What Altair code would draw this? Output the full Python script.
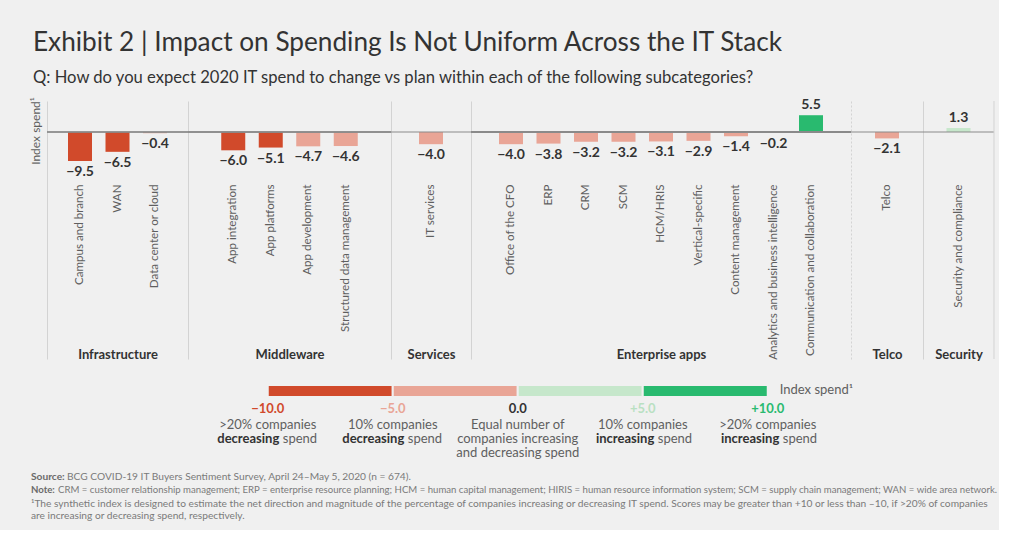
import altair as alt
import pandas as pd

# ---------------- data ----------------
subcategories = [
    "Campus and branch", "WAN", "Data center or cloud",
    "App integration", "App platforms", "App development", "Structured data management",
    "IT services",
    "Office of the CFO", "ERP", "CRM", "SCM", "HCM/HRIS", "Vertical-specific",
    "Content management", "Analytics and business intelligence", "Communication and collaboration",
    "Telco",
    "Security and compliance",
]
stack_layer = [
    "Infrastructure", "Infrastructure", "Infrastructure",
    "Middleware", "Middleware", "Middleware", "Middleware",
    "Services",
    "Enterprise apps", "Enterprise apps", "Enterprise apps", "Enterprise apps", "Enterprise apps",
    "Enterprise apps", "Enterprise apps", "Enterprise apps", "Enterprise apps",
    "Telco",
    "Security",
]
index_spend = [-9.5, -6.5, -0.4,
               -6.0, -5.1, -4.7, -4.6,
               -4.0,
               -4.0, -3.8, -3.2, -3.2, -3.1, -2.9, -1.4, -0.2, 5.5,
               -2.1,
               1.3]
groups = ["Infrastructure", "Middleware", "Services", "Enterprise apps", "Telco", "Security"]
y_title = "Index spend\u00b9"

legend_ticks = [-10, -5, 0, 5, 10]
legend_tick_labels = ["\u221210.0", "\u22125.0", "0.0", "+5.0", "+10.0"]
legend_line1 = [">20% companies", "10% companies", "Equal number of", "10% companies", ">20% companies"]
legend_bold = ["decreasing", "decreasing", "", "increasing", "increasing"]
legend_rest = ["spend", "spend", "companies increasing", "spend", "spend"]
legend_line3 = ["", "", "and decreasing spend", "", ""]
legend_seg_start = [-10, -5, 0, 5]
legend_seg_end = [-5, 0, 5, 10]

source_label = "Source:"
source_text = "BCG COVID-19 IT Buyers Sentiment Survey, April 24\u2013May 5, 2020 (n = 674)."
note_label = "Note:"
note_text = ("CRM = customer relationship management; ERP = enterprise resource planning; "
             "HCM = human capital management; HIRIS = human resource information system; "
             "SCM = supply chain management; WAN = wide area network.")
footnote_1 = ("\u00b9The synthetic index is designed to estimate the net direction and magnitude of the "
              "percentage of companies increasing or decreasing IT spend. Scores may be greater than +10 "
              "or less than \u201310, if >20% of companies")
footnote_2 = "are increasing or decreasing spend, respectively."

# ---------------- styling / layout ----------------
BG = "#f0f0f0"
FONT = "Lato"
DARK = "#333333"
GREY = "#5f5f5f"
DIV = "#d3d3d3"
color_scale = alt.Scale(type="threshold", domain=[-5, 0, 5],
                        range=["#d14a2b", "#e9a596", "#c6e7cb", "#29ba6f"])
panel_widths = [141, 203, 80, 380, 72, 71]
STEP = 37.5
PI = 0.36
H = 258
YDOM = [-74.4, 10.16]
LEFT = -16

df = pd.DataFrame({"subcategory": subcategories, "group": stack_layer, "index_spend": index_spend})
df["label"] = [("\u2212" if v < 0 else "") + f"{abs(v):.1f}" for v in df["index_spend"]]

panels = []
for i, g in enumerate(groups):
    d = df[df["group"] == g]
    n = len(d)
    W = panel_widths[i]
    po = (W / STEP - n + PI) / 2
    x_axis = alt.Axis(title=g, orient="bottom", offset=-180, domain=False, ticks=False,
                      labelAngle=-90, labelPadding=5, labelFontSize=11.6, labelColor=GREY,
                      labelFont=FONT, labelLimit=400,
                      titleFont=FONT, titleFontSize=13, titleFontWeight="bold", titleColor=DARK,
                      titleY=175, titleBaseline="middle")
    y_kw = dict(title="", labels=False, ticks=False, grid=False, domainColor=DIV, domainWidth=1)
    if g == "Telco":
        y_kw["domainDash"] = [2, 2]
    base = alt.Chart(d).encode(
        x=alt.X("subcategory:N", sort=list(d["subcategory"]),
                scale=alt.Scale(paddingInner=PI, paddingOuter=po), axis=x_axis),
        y=alt.Y("index_spend:Q", scale=alt.Scale(domain=YDOM, nice=False, zero=False),
                axis=alt.Axis(**y_kw)),
    )
    bars = base.mark_bar().encode(color=alt.Color("index_spend:Q", scale=color_scale, legend=None))
    zero = alt.Chart(d).mark_rule(color="#8a8a8a", strokeWidth=1.2).encode(y=alt.datum(0))
    neg = base.transform_filter("datum.index_spend < 0").mark_text(
        dy=11, baseline="middle", font=FONT, fontSize=14, fontWeight="bold", color=DARK
    ).encode(text="label:N")
    pos = base.transform_filter("datum.index_spend >= 0").mark_text(
        dy=-10, baseline="middle", font=FONT, fontSize=14, fontWeight="bold", color=DARK
    ).encode(text="label:N")
    layers = [bars, zero, neg, pos]
    if i == 0:
        layers.append(alt.Chart(pd.DataFrame({"t": [y_title]})).mark_text(
            angle=270, align="center", baseline="top", font=FONT, fontSize=12, color=GREY
        ).encode(x=alt.value(LEFT), y=alt.value(30), text="t:N"))
    if i == len(groups) - 1:
        layers.append(alt.Chart(d).mark_rule(color=DIV).encode(
            x=alt.value(W), y=alt.value(0), y2=alt.value(H)))
    panels.append(alt.layer(*layers).properties(width=W, height=H))

main = alt.hconcat(*panels, spacing=0, bounds="flush")

# ---------------- custom legend + notes ----------------
LW = sum(panel_widths)
lscale = alt.Scale(domain=[-18.83, 19.05], nice=False, zero=False)
seg_df = pd.DataFrame({"start": legend_seg_start, "end": legend_seg_end})
tick_df = pd.DataFrame({"tick": legend_ticks, "tick_label": legend_tick_labels, "line1": legend_line1,
                        "bold": legend_bold, "rest": legend_rest, "line3": legend_line3})

segs = alt.Chart(seg_df).mark_bar(stroke=BG, strokeWidth=2).encode(
    x=alt.X("start:Q", scale=lscale, axis=None), x2="end:Q",
    y=alt.value(24), y2=alt.value(36),
    color=alt.Color("start:Q", scale=color_scale, legend=None))
idx_lab = alt.Chart(tick_df).transform_filter("datum.tick == 10").mark_text(
    align="left", baseline="middle", dx=12, font=FONT, fontSize=13, color=GREY
).encode(x=alt.X("tick:Q", scale=lscale, axis=None), y=alt.value(29), text=alt.value(y_title))
tick_txt = alt.Chart(tick_df).mark_text(baseline="middle", font=FONT, fontSize=13, fontWeight="bold").encode(
    x=alt.X("tick:Q", scale=lscale, axis=None), y=alt.value(48), text="tick_label:N",
    color=alt.Color("tick_label:N", scale=alt.Scale(domain=legend_tick_labels,
                    range=["#d14a2b", "#e9a596", DARK, "#b9e0c2", "#29ba6f"]), legend=None))
line1 = alt.Chart(tick_df).mark_text(baseline="middle", font=FONT, fontSize=13, color=GREY).encode(
    x=alt.X("tick:Q", scale=lscale, axis=None), y=alt.value(64), text="line1:N")
line2b = alt.Chart(tick_df).transform_filter("datum.bold != ''").mark_text(
    baseline="middle", align="right", dx=11.5, font=FONT, fontSize=13, fontWeight="bold", color=DARK
).encode(x=alt.X("tick:Q", scale=lscale, axis=None), y=alt.value(78), text="bold:N")
line2r = alt.Chart(tick_df).transform_filter("datum.bold != ''").mark_text(
    baseline="middle", align="left", dx=15, font=FONT, fontSize=13, color=GREY
).encode(x=alt.X("tick:Q", scale=lscale, axis=None), y=alt.value(78), text="rest:N")
line2c = alt.Chart(tick_df).transform_filter("datum.bold == ''").mark_text(
    baseline="middle", font=FONT, fontSize=13, color=GREY
).encode(x=alt.X("tick:Q", scale=lscale, axis=None), y=alt.value(78), text="rest:N")
line3 = alt.Chart(tick_df).transform_filter("datum.line3 != ''").mark_text(
    baseline="middle", font=FONT, fontSize=13, color=GREY
).encode(x=alt.X("tick:Q", scale=lscale, axis=None), y=alt.value(92), text="line3:N")

notes_df = pd.DataFrame({
    "text": [source_label, source_text, note_label, note_text, footnote_1, footnote_2],
    "kind": ["b", "r", "b", "r", "r", "r"],
    "row": [0, 0, 1, 1, 2, 3],
    "xoff": [0, 1, 0, 2, 0, 0],
})
note_x = {0: LEFT, 1: LEFT + 36, 2: LEFT + 27}
note_y = {0: 116, 1: 129, 2: 143, 3: 155}
note_size = {0: 10.2, 1: 9.6, 2: 10.2, 3: 10.2}
note_layers = []
for k, r in notes_df.iterrows():
    note_layers.append(alt.Chart(notes_df.iloc[[k]]).mark_text(
        align="left", baseline="middle", font=FONT, fontSize=note_size[r["row"]],
        fontWeight="bold" if r["kind"] == "b" else "normal",
        color="#6a6a6a" if r["kind"] == "b" else "#7a7a7a",
    ).encode(x=alt.value(note_x[r["xoff"]]), y=alt.value(note_y[r["row"]]), text="text:N"))

legend = alt.layer(segs, idx_lab, tick_txt, line1, line2b, line2r, line2c, line3, *note_layers).properties(
    width=LW, height=165)

chart = alt.vconcat(main, legend, spacing=0).properties(
    title=alt.TitleParams(
        text="Exhibit 2 | Impact on Spending Is Not Uniform Across the IT Stack",
        subtitle="Q: How do you expect 2020 IT spend to change vs plan within each of the following subcategories?",
        anchor="start", frame="bounds", dx=3, font=FONT, fontSize=26.2, fontWeight="normal", color=DARK,
        subtitleFont=FONT, subtitleFontSize=16.6, subtitleColor=DARK, subtitlePadding=13, offset=11),
    padding={"left": 29, "top": 30, "right": 0, "bottom": 4},
    background=BG,
).configure(font=FONT, view=alt.ViewConfig(strokeWidth=0))

chart.save("out.html", embed_options={"renderer": "svg", "actions": False})
